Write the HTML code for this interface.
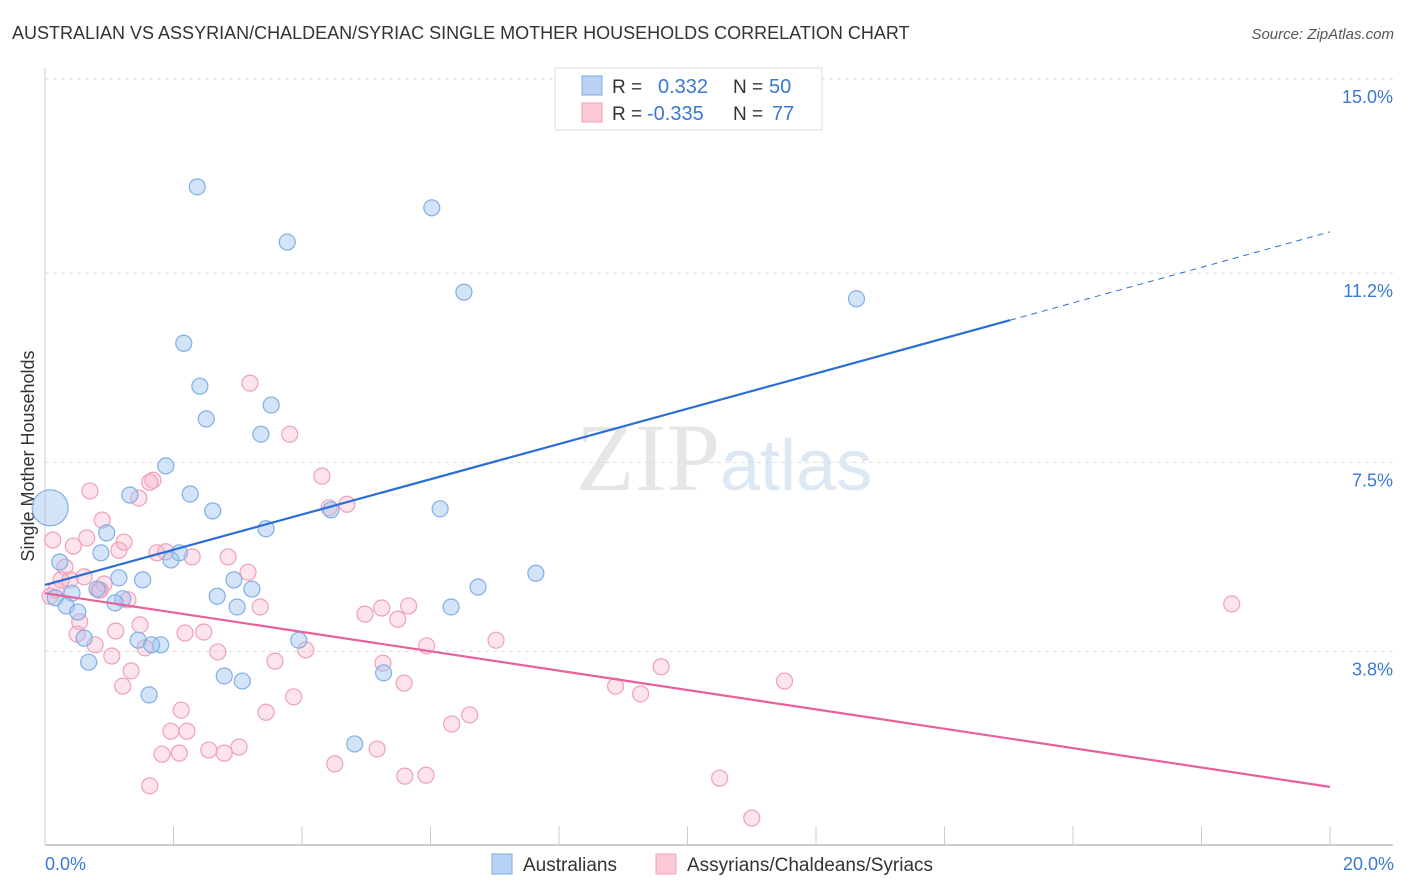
<!DOCTYPE html>
<html><head><meta charset="utf-8"><style>
body{margin:0;background:#fff;font-family:"Liberation Sans",sans-serif;}
svg{display:block}
</style></head><body>
<svg id="chart" width="1406" height="892">
<text x="12" y="39" font-size="18" fill="#333">AUSTRALIAN VS ASSYRIAN/CHALDEAN/SYRIAC SINGLE MOTHER HOUSEHOLDS CORRELATION CHART</text>
<text x="1394" y="39" font-size="15" fill="#555" font-style="italic" text-anchor="end">Source: ZipAtlas.com</text>
<text x="720" y="490" font-size="96" fill="#e6e6e6" text-anchor="end" font-family="Liberation Serif,serif">ZIP</text>
<text x="720" y="490" font-size="72" fill="#dde8f5">atlas</text>
<text transform="translate(34,456) rotate(-90)" font-size="18" fill="#333" text-anchor="middle">Single Mother Households</text>
<g id="grid"></g><g id="axes"></g><g id="marks"></g>
<g>
<rect x="555" y="68" width="267" height="62" fill="#fff" stroke="#ddd"/>
<rect x="582" y="76" width="20" height="19" fill="#b8d3f5" stroke="#7fa9e0"/>
<rect x="582" y="103" width="20" height="19" fill="#fbc8d6" stroke="#f0a0b8"/>
<text x="612" y="93" font-size="19" fill="#333">R =</text><text x="658" y="93" font-size="20" fill="#3a78d4">0.332</text>
<text x="733" y="93" font-size="19" fill="#333">N =</text><text x="769" y="93" font-size="20" fill="#3a78d4">50</text>
<text x="612" y="120" font-size="19" fill="#333">R =</text><text x="647" y="120" font-size="20" fill="#3a78d4">-0.335</text>
<text x="733" y="120" font-size="19" fill="#333">N =</text><text x="772" y="120" font-size="20" fill="#3a78d4">77</text>
</g>
<g>
<rect x="492" y="854" width="20" height="20" fill="#b8d3f5" stroke="#7fa9e0"/>
<text x="523" y="871" font-size="19" fill="#333">Australians</text>
<rect x="656" y="854" width="20" height="20" fill="#fbc8d6" stroke="#f0a0b8"/>
<text x="687" y="871" font-size="19" fill="#333">Assyrians/Chaldeans/Syriacs</text>
</g>
</svg>
<script>
const yTicks=[15.0,11.2,7.5,3.8];
const yTickLabels=["15.0%","11.2%","7.5%","3.8%"];
const xTickLabels=["0.0%","20.0%"];
const blueX=[2.37,6.02,3.77,6.52,12.63,2.16,2.41,3.52,2.51,3.36,1.88,1.32,2.26,2.61,6.15,4.45,3.44,0.96,0.23,0.87,2.09,1.96,7.64,1.52,1.15,2.94,6.74,0.81,3.22,0.42,1.21,2.68,1.09,2.99,6.32,0.16,0.33,0.51,0.61,1.45,3.95,1.80,1.66,0.68,2.79,5.27,3.07,1.62,4.82,0.08];
const blueY=[12.89,12.48,11.81,10.83,10.70,9.83,8.99,8.62,8.35,8.05,7.43,6.86,6.88,6.55,6.59,6.57,6.20,6.12,5.55,5.73,5.73,5.59,5.33,5.20,5.24,5.20,5.06,5.02,5.02,4.94,4.83,4.88,4.75,4.67,4.67,4.85,4.69,4.57,4.06,4.02,4.02,3.93,3.93,3.59,3.32,3.38,3.22,2.95,1.99,6.61];
const pinkX=[3.19,3.81,4.31,1.68,0.70,1.46,4.42,4.70,0.89,0.12,0.65,1.23,1.15,1.74,1.88,2.29,2.85,0.44,0.31,0.61,0.39,0.92,0.84,1.29,0.17,0.08,3.16,4.98,5.24,5.66,5.49,3.35,0.54,1.48,0.50,1.10,2.18,2.47,0.78,1.56,7.02,5.94,2.69,1.04,4.06,3.58,5.26,1.34,9.59,1.21,5.59,8.88,9.27,11.51,18.47,3.87,2.12,3.44,6.61,6.33,1.96,2.21,1.82,2.09,2.55,2.79,3.02,5.17,4.51,5.60,5.93,10.50,1.63,11.00,0.86,0.25,1.63];
const pinkY=[9.05,8.05,7.23,7.15,6.94,6.80,6.61,6.68,6.37,5.98,6.02,5.94,5.78,5.73,5.75,5.65,5.65,5.86,5.45,5.26,5.20,5.12,5.00,4.81,5.00,4.88,5.35,4.53,4.65,4.69,4.43,4.67,4.38,4.32,4.14,4.20,4.16,4.18,3.93,3.87,4.02,3.91,3.79,3.71,3.83,3.61,3.57,3.42,3.50,3.12,3.18,3.12,2.97,3.22,4.73,2.91,2.65,2.61,2.56,2.38,2.24,2.24,1.79,1.81,1.87,1.81,1.93,1.89,1.60,1.36,1.38,1.32,1.17,0.54,5.00,5.20,7.11];
const blueTrend=[[0,5.10],[15.02,10.28],[20,12.01]];
const pinkTrend=[[0,4.94],[20,1.15]];
const NS="http://www.w3.org/2000/svg";
const sx=v=>45+v/20*1285, sy=v=>79+(15-v)*51.11;
function mk(tag,attrs,parent){const e=document.createElementNS(NS,tag);for(const k in attrs)e.setAttribute(k,attrs[k]);document.getElementById(parent).appendChild(e);return e;}
yTicks.forEach((t,i)=>{
 const l=mk('line',{x1:45,x2:1393,y1:sy(t),y2:sy(t),stroke:'#ddd','stroke-dasharray':'4,4'},'grid');
 
 
 const tx=mk('text',{x:1393,y:sy(t)+24,'font-size':18,fill:'#3a78d4','text-anchor':'end'},'grid');
 tx.textContent=yTickLabels[i];
 
 
});
const ax=mk('line',{x1:45,x2:1393,y1:845,y2:845,stroke:'#bbb','stroke-width':1.5},'axes');


const ay=mk('line',{x1:45,x2:45,y1:68,y2:845,stroke:'#ccc'},'axes');


for(let i=1;i<=10;i++){const t=mk('line',{x1:sx(i*2),x2:sx(i*2),y1:826,y2:845,stroke:'#ccc'},'axes');
 
 }
[[0,'start'],[20,'end']].forEach((p,i)=>{const t=mk('text',{x:sx(p[0])+(i?0:0),y:870,'font-size':18,fill:'#3a78d4','text-anchor':i?'start':'start'},'axes');
 if(i){t.setAttribute('x',1394);t.setAttribute('text-anchor','end');}
 t.textContent=xTickLabels[i];
 
 });
pinkX.forEach((x,i)=>{const c=mk('circle',{cx:sx(x),cy:sy(pinkY[i]),r:8,fill:'rgba(248,175,200,0.35)',stroke:'#f0a0b8','stroke-width':1.2},'marks');
 
 });
blueX.forEach((x,i)=>{const c=mk('circle',{cx:sx(x),cy:sy(blueY[i]),r:i==blueX.length-1?18:8,fill:'rgba(160,196,240,0.45)',stroke:'#80aee6','stroke-width':1.2},'marks');
 
 });
const b1=mk('line',{x1:sx(blueTrend[0][0]),y1:sy(blueTrend[0][1]),x2:sx(blueTrend[1][0]),y2:sy(blueTrend[1][1]),stroke:'#2b6fd6','stroke-width':2.2},'marks');


const b2=mk('line',{x1:sx(blueTrend[1][0]),y1:sy(blueTrend[1][1]),x2:sx(blueTrend[2][0]),y2:sy(blueTrend[2][1]),stroke:'#2b6fd6','stroke-width':1,'stroke-dasharray':'6,5'},'marks');


const p1=mk('line',{x1:sx(pinkTrend[0][0]),y1:sy(pinkTrend[0][1]),x2:sx(pinkTrend[1][0]),y2:sy(pinkTrend[1][1]),stroke:'#e8619a','stroke-width':2.2},'marks');


</script>
</body></html>
